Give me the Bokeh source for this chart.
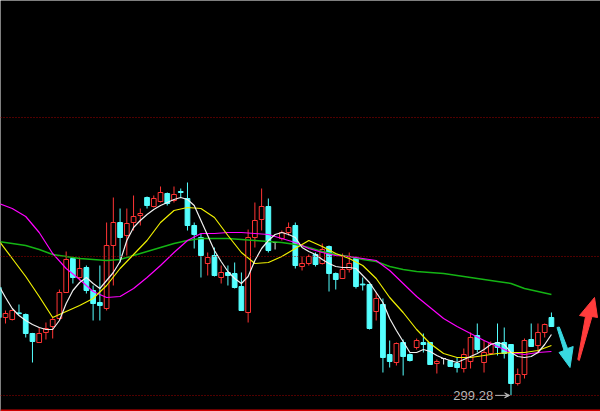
from bokeh.plotting import figure
from bokeh.models import Range1d, Span, Arrow, VeeHead, ColumnDataSource
from bokeh.core.properties import value
from bokeh.embed import file_html
from bokeh.resources import INLINE

# Daily OHLC, oldest first
opens = [326.25, 318.75, 318.25, 319.9, 319.5, 314.75, 312.5, 315.0, 316.5, 318.5,
         325.0, 333.5, 328.75, 331.25, 325.5, 322.5, 321.0, 336.75, 342.5, 339.25,
         342.5, 344.25, 348.75, 346.5, 347.75, 349.75, 348.0, 350.25, 348.5, 341.75,
         338.75, 332.25, 334.25, 328.75, 330.0, 329.75, 326.5, 320.0, 338.75, 343.25,
         346.5, 337.5, 338.5, 340.0, 341.75, 331.5, 332.25, 334.5, 332.25, 336.5,
         329.75, 328.5, 330.75, 333.5, 327.1, 327.0, 320.25, 322.0, 309.5, 307.5,
         312.5, 309.5, 311.25, 312.5, 312.5, 307.25, 308.5, 308.0, 307.25, 306.0,
         307.75, 314.25, 307.5, 309.75, 312.5, 312.5, 312.0, 302.25, 304.5, 313.25,
         311.75, 315.0, 318.75]
highs = [326.75, 320.5, 320.75, 322.0, 319.75, 314.9, 316.25, 317.5, 318.75, 325.75,
         335.25, 333.75, 333.75, 331.75, 326.75, 331.75, 342.5, 348.75, 346.0, 346.0,
         349.25, 346.0, 349.0, 349.25, 351.5, 350.0, 351.5, 351.0, 352.5, 342.5,
         339.75, 335.0, 336.25, 331.75, 331.75, 332.5, 330.0, 340.75, 347.5, 351.0,
         348.5, 337.6, 340.5, 342.5, 342.5, 334.0, 334.5, 335.0, 337.25, 336.75,
         330.0, 334.75, 335.0, 334.0, 328.75, 327.25, 325.0, 323.5, 313.0, 312.5,
         313.25, 309.75, 313.5, 314.75, 312.6, 308.25, 308.6, 308.1, 308.75, 311.0,
         315.0, 317.25, 313.0, 312.75, 317.25, 316.25, 312.1, 306.0, 313.5, 317.25,
         317.25, 317.25, 320.0]
lows = [318.0, 317.25, 318.0, 319.6, 313.75, 307.5, 312.4, 313.25, 313.5, 318.25,
        324.9, 327.25, 328.0, 324.75, 318.0, 318.0, 320.5, 326.75, 332.5, 334.25,
        340.5, 341.75, 346.0, 346.25, 347.5, 346.75, 347.5, 348.75, 340.5, 336.0,
        328.75, 329.25, 329.0, 327.25, 326.75, 326.0, 320.4, 317.5, 336.25, 340.5,
        335.0, 335.75, 338.0, 339.25, 331.0, 330.5, 331.75, 331.5, 332.0, 325.25,
        325.75, 328.4, 330.0, 326.0, 325.5, 315.75, 318.0, 305.0, 306.25, 306.75,
        304.25, 307.75, 310.75, 310.0, 306.9, 304.75, 307.0, 306.4, 305.0, 305.0,
        306.0, 310.0, 305.0, 309.5, 309.25, 308.5, 299.28, 301.75, 303.5, 311.4,
        309.75, 313.75, 316.4]
closes = [318.75, 319.75, 320.5, 319.7, 314.75, 312.75, 314.75, 316.0, 318.25, 325.0,
          333.25, 328.75, 331.0, 325.5, 322.25, 321.75, 336.75, 342.5, 338.75, 342.25,
          344.0, 344.75, 346.75, 348.5, 350.0, 347.25, 349.5, 350.0, 341.75, 339.5,
          334.25, 333.75, 329.25, 330.0, 329.25, 326.25, 320.5, 338.75, 343.0, 346.5,
          335.5, 337.5, 340.0, 341.25, 331.75, 332.25, 334.0, 332.0, 335.75, 329.75,
          328.25, 330.75, 332.25, 326.5, 326.9, 316.0, 323.5, 308.75, 307.75, 312.25,
          309.0, 308.0, 313.0, 312.0, 307.0, 307.75, 308.5, 306.5, 306.25, 309.5,
          313.75, 310.75, 310.0, 312.25, 311.25, 309.75, 302.25, 304.5, 313.0, 311.5,
          315.0, 317.0, 316.5]

# Moving averages: MA5 per bar, slower averages every second bar
ma5 = [326.75, 323.75, 321.0, 319.25, 318.0, 317.0, 316.25, 315.75, 315.75, 318.0,
       322.25, 325.5, 327.5, 328.75, 327.25, 326.0, 328.0, 330.0, 332.75, 338.0,
       341.25, 343.0, 344.5, 345.75, 346.75, 347.5, 348.25, 348.75, 348.25, 346.75,
       343.0, 339.25, 335.5, 332.75, 330.25, 328.5, 327.25, 329.0, 333.0, 336.0,
       338.0, 339.5, 340.0, 339.5, 338.75, 336.25, 335.25, 334.5, 333.25, 332.25,
       331.5, 331.25, 331.25, 331.0, 329.25, 327.5, 325.0, 322.5, 318.5, 315.5,
       312.75, 310.0, 310.0, 310.75, 310.25, 309.25, 308.5, 308.0, 307.5, 308.25,
       309.0, 309.75, 310.75, 312.0, 312.5, 312.0, 310.0, 309.0, 308.75, 309.0,
       310.0, 312.0, 314.5]
ma_slow_idx = list(range(0, 83, 2))
ma10 = [338.0, 333.5, 329.0, 324.0, 318.75, 320.25, 321.75, 323.5, 326.75, 331.0,
        334.5, 338.0, 342.5, 345.5, 346.25, 346.0, 343.75, 339.25, 335.0, 332.25,
        332.5, 334.0, 336.0, 338.0, 336.5, 334.75, 333.5, 331.75, 328.5, 323.75,
        320.0, 315.75, 312.25, 309.75, 308.75, 308.75, 309.25, 309.75, 310.0, 310.0,
        310.5, 311.75]
ma20 = [347.25, 346.0, 344.0, 340.0, 334.75, 331.0, 328.25, 325.25, 323.75, 324.0,
        326.0, 328.75, 331.75, 335.0, 338.0, 339.75, 339.75, 340.0, 340.0, 339.75,
        339.5, 338.5, 337.5, 336.0, 335.0, 334.25, 334.0, 333.5, 333.0, 330.5,
        327.25, 324.0, 321.25, 318.5, 316.5, 314.75, 313.0, 311.5, 310.0, 309.5,
        310.0, 310.25]
ma60 = [337.75, 337.25, 336.75, 335.75, 334.5, 334.0, 333.5, 333.25, 333.0, 333.25,
        334.25, 335.25, 336.25, 337.25, 338.0, 338.5, 338.5, 338.5, 338.25, 338.0,
        337.75, 337.5, 337.0, 336.25, 335.25, 334.5, 334.0, 333.25, 332.75, 331.5,
        330.75, 330.25, 330.0, 329.75, 329.25, 328.75, 328.25, 327.75, 327.25, 326.0,
        325.25, 324.5]

# Horizontal division lines of the price panel
grid_levels = [368.75, 334.0, 299.25]
base_level = 295.5

UP = "#ff3434"
DOWN = "#54ffff"
FLAT = "#e6e6e6"

W, H = 600, 411
X_LO, X_HI = 0.258, 89.28
Y_LO, Y_HI = 295.25, 398.0

p = figure(width=W, height=H, x_range=Range1d(X_LO, X_HI), y_range=Range1d(Y_LO, Y_HI),
           output_backend="svg", toolbar_location=None, x_axis_type=None, y_axis_type=None,
           min_border=0, background_fill_color="black", border_fill_color="black",
           outline_line_color=None)
p.grid.visible = False


def sx(px):
    return X_LO + px / W * (X_HI - X_LO)


def sy(py):
    return Y_HI - py / H * (Y_HI - Y_LO)


for lv in grid_levels:
    p.add_layout(Span(location=lv, dimension="width", line_color="#a00000",
                      line_dash="1 2", line_width=1))
p.add_layout(Span(location=base_level, dimension="width", line_color="#d00000", line_width=2))

idx = list(range(len(opens)))
colors = []
for o, c in zip(opens, closes):
    colors.append(UP if c > o else (DOWN if c < o else FLAT))

src = ColumnDataSource(dict(
    x=idx, o=opens, h=highs, l=lows, c=closes, col=colors,
    top=[max(o, c) for o, c in zip(opens, closes)],
    bot=[min(o, c) for o, c in zip(opens, closes)],
))
p.segment(x0="x", y0="l", x1="x", y1="h", line_color="col", line_width=1, source=src)

up_i = [i for i in idx if closes[i] > opens[i]]
dn_i = [i for i in idx if closes[i] < opens[i]]
fl_i = [i for i in idx if closes[i] == opens[i]]
BW = 0.7
p.vbar(x=[i for i in dn_i], top=[opens[i] for i in dn_i], bottom=[closes[i] for i in dn_i],
       width=BW, fill_color=DOWN, line_color=DOWN, line_width=1)
p.vbar(x=[i for i in up_i], top=[closes[i] for i in up_i], bottom=[opens[i] for i in up_i],
       width=BW, fill_color="black", line_color=UP, line_width=1)
p.segment(x0=[i - BW / 2 for i in fl_i], y0=[opens[i] for i in fl_i],
          x1=[i + BW / 2 for i in fl_i], y1=[opens[i] for i in fl_i],
          line_color=FLAT, line_width=1)

# moving averages
p.line(ma_slow_idx, ma60, line_color="#14b414", line_width=1.5)
p.line(ma_slow_idx, ma20, line_color="#ff00ff", line_width=1.2)
p.line(ma_slow_idx, ma10, line_color="#f0f000", line_width=1.2)
p.line(idx, ma5, line_color="#f0f0f0", line_width=1.2)

# lowest price marker
lo_i = min(idx, key=lambda i: lows[i])
lo_v = lows[lo_i]
p.text(x=[lo_i - 2.65], y=[lo_v], text=[f"{lo_v:.2f}"], text_color="#b8b8b8",
       text_font=value("Liberation Sans"), text_font_size="13px",
       text_align="right", text_baseline="middle")
p.add_layout(Arrow(x_start=lo_i - 2.35, y_start=lo_v, x_end=lo_i - 0.2, y_end=lo_v,
                   line_color="#b8b8b8", line_width=1,
                   end=VeeHead(size=5, line_color="#b8b8b8", fill_color="#b8b8b8")))

# trend arrows at the right edge
down_arrow = [(556.5, 327), (558.8, 326.5), (567, 348), (572.7, 346), (569.5, 367),
              (558.5, 352), (563.5, 350)]
up_arrow = [(594, 297), (597, 317), (591.5, 316), (578.8, 360), (577.3, 359),
            (585, 316), (579, 315)]
p.patch([sx(a) for a, b in down_arrow], [sy(b) for a, b in down_arrow],
        fill_color="#38d8e0", line_color="#38d8e0", line_width=1)
p.patch([sx(a) for a, b in up_arrow], [sy(b) for a, b in up_arrow],
        fill_color="#ff3c3c", line_color="#ff3c3c", line_width=1)

open("out.html", "w").write(file_html(p, INLINE))
